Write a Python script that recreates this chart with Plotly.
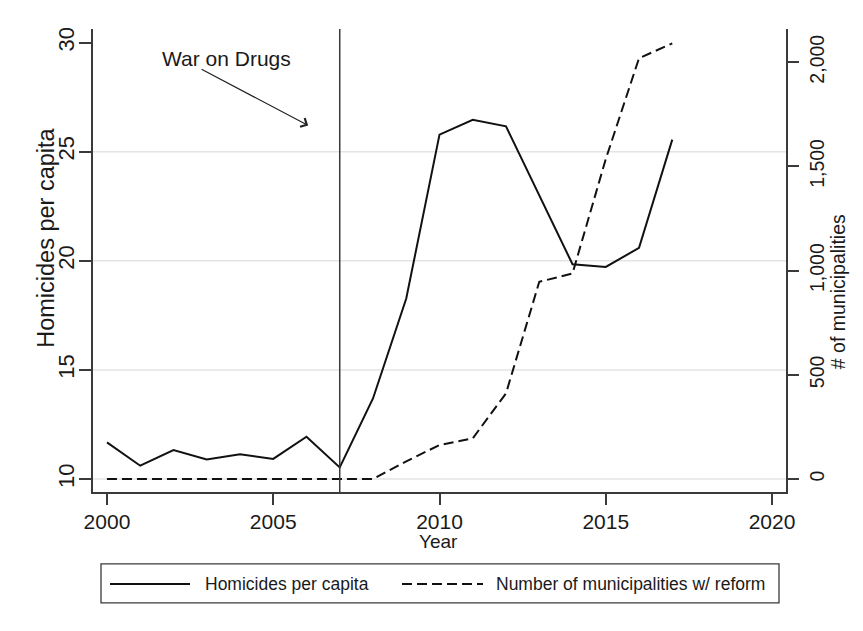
import plotly.graph_objects as go

# ---- data -------------------------------------------------------------
years = list(range(2000, 2018))
homicides_per_capita = [11.68, 10.61, 11.33, 10.90, 11.14, 10.92, 11.94, 10.53, 13.69,
                        18.27, 25.78, 26.46, 26.16, 23.00, 19.84, 19.72, 20.59, 25.55]
municipalities_with_reform = [0, 0, 0, 0, 0, 0, 0, 0, 0,
                              85, 163, 195, 411, 946, 986, 1535, 2019, 2090]

x_ticks = [2000, 2005, 2010, 2015, 2020]
left_ticks = [10, 15, 20, 25, 30]
left_grid = [10, 15, 20, 25]
right_ticks = [0, 500, 1000, 1500, 2000]
war_on_drugs_year = 2007

# ---- layout geometry (pixels) -------------------------------------------
W, H = 863, 631
L, R, T, B = 93, 786, 28.5, 492          # plot area edges


def px_x(p):
    return (p - L) / (R - L)


def px_y(p):
    return (B - p) / (B - T)


FONT = "Liberation Sans, Arial, Helvetica, sans-serif"
INK = "#1a1a1a"
AXIS = "#3a3a3a"
GRID = "#e4e4e4"
DASH = "10px,5px"

fig = go.Figure()

fig.add_trace(go.Scatter(
    x=years, y=homicides_per_capita, mode="lines",
    name="Homicides per capita",
    line=dict(color="#111111", width=2), yaxis="y", showlegend=False))

fig.add_trace(go.Scatter(
    x=years, y=municipalities_with_reform, mode="lines",
    name="Number of municipalities w/ reform",
    line=dict(color="#111111", width=2, dash=DASH), yaxis="y2", showlegend=False))

# horizontal grid lines on the left scale
for g in left_grid:
    fig.add_hline(y=g, line=dict(color=GRID, width=1.5), layer="below")

# start of the War on Drugs
fig.add_vline(x=war_on_drugs_year, line=dict(color="#3a3a3a", width=1.5))

fig.update_layout(
    width=W, height=H,
    margin=dict(l=L, r=W - R, t=T, b=H - B, pad=0),
    paper_bgcolor="white", plot_bgcolor="white",
    font=dict(family=FONT, color=INK),
    showlegend=False,
    xaxis=dict(
        range=[1999.58, 2020.42], tickvals=x_ticks,
        ticks="outside", ticklen=11, tickwidth=1.5, tickcolor=AXIS,
        showline=True, linecolor=AXIS, linewidth=1.5, mirror=False,
        showgrid=False, zeroline=False,
        tickfont=dict(size=21, family=FONT, color=INK),
        ticklabelstandoff=-1,
    ),
    yaxis=dict(
        range=[9.405, 30.62], tickvals=left_ticks, tickangle=-90,
        ticks="outside", ticklen=12, tickwidth=1.5, tickcolor=AXIS,
        showline=True, linecolor=AXIS, linewidth=1.5, mirror=False,
        showgrid=False, zeroline=False,
        tickfont=dict(size=22, family=FONT, color=INK),
        ticklabelstandoff=-4,
    ),
    yaxis2=dict(
        range=[-62.3, 2159], tickvals=right_ticks, tickformat=",d",
        tickangle=-90, overlaying="y", side="right",
        ticks="outside", ticklen=11, tickwidth=1.5, tickcolor=AXIS,
        showline=True, linecolor=AXIS, linewidth=1.5,
        showgrid=False, zeroline=False,
        tickfont=dict(size=19.5, family=FONT, color=INK),
        ticklabelstandoff=2,
    ),
)

annotations = []

# axis titles
annotations.append(dict(text="Homicides per capita", xref="paper", yref="paper",
                        x=px_x(46), y=px_y(237.5), textangle=-90, showarrow=False,
                        xanchor="center", yanchor="middle", font=dict(size=23.5)))
annotations.append(dict(text="# of municipalities", xref="paper", yref="paper",
                        x=px_x(838), y=px_y(292), textangle=-90, showarrow=False,
                        xanchor="center", yanchor="middle", font=dict(size=19.5)))
annotations.append(dict(text="Year", xref="paper", yref="paper",
                        x=px_x(438), y=px_y(542), showarrow=False,
                        xanchor="center", yanchor="middle", font=dict(size=19)))

# "War on Drugs" label and its pointer
annotations.append(dict(text="War on Drugs", xref="x", yref="y",
                        x=2003.6, y=29.27, showarrow=False,
                        xanchor="center", yanchor="middle", font=dict(size=21)))
annotations.append(dict(text="", xref="x", yref="y", x=2006.05, y=26.2,
                        axref="x", ayref="y", ax=2002.8, ay=28.81,
                        showarrow=True, arrowhead=4, arrowsize=1.6,
                        arrowwidth=1.2, arrowcolor="#222222", standoff=0))

# legend box drawn below the plot
shapes = []
shapes.append(dict(type="rect", xref="paper", yref="paper",
                   x0=px_x(101), x1=px_x(779), y0=px_y(603), y1=px_y(564),
                   line=dict(color=AXIS, width=1.3), fillcolor="white"))
shapes.append(dict(type="line", xref="paper", yref="paper",
                   x0=px_x(110), x1=px_x(190), y0=px_y(584), y1=px_y(584),
                   line=dict(color="#111111", width=2)))
shapes.append(dict(type="line", xref="paper", yref="paper",
                   x0=px_x(402), x1=px_x(483), y0=px_y(584), y1=px_y(584),
                   line=dict(color="#111111", width=2, dash=DASH)))
annotations.append(dict(text="Homicides per capita", xref="paper", yref="paper",
                        x=px_x(203), y=px_y(584), showarrow=False,
                        xanchor="left", yanchor="middle", font=dict(size=17.5)))
annotations.append(dict(text="Number of municipalities w/ reform", xref="paper", yref="paper",
                        x=px_x(494), y=px_y(584), showarrow=False,
                        xanchor="left", yanchor="middle", font=dict(size=17.5)))

fig.update_layout(annotations=annotations)
for s in shapes:
    fig.add_shape(**s)

fig.write_html("out.html")
